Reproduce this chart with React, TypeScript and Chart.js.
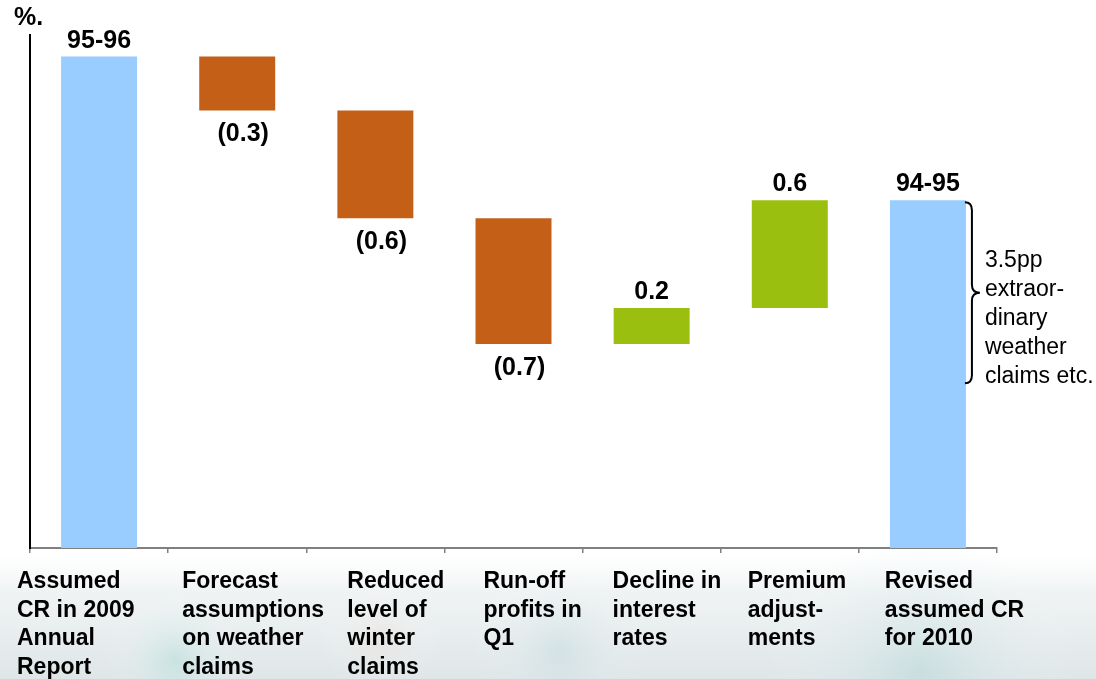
import React, { useEffect, useRef } from "react";
import { Chart, registerables } from "chart.js";

Chart.register(...registerables);

const categories: string[][] = [
  ["Assumed", "CR in 2009", "Annual", "Report"],
  ["Forecast", "assumptions", "on weather", "claims"],
  ["Reduced", "level of", "winter", "claims"],
  ["Run-off", "profits in", "Q1"],
  ["Decline in", "interest", "rates"],
  ["Premium", "adjust-", "ments"],
  ["Revised", "assumed CR", "for 2010"],
];
const startValue = 95.5;
const changes: number[] = [-0.3, -0.6, -0.7, 0.2, 0.6];
const endValue = 94.7;
const valueLabels: string[] = ["95-96", "(0.3)", "(0.6)", "(0.7)", "0.2", "0.6", "94-95"];
const noteLines: string[] = ["3.5pp", "extraor-", "dinary", "weather", "claims etc."];
const unitLabel = "%.";
const axisMin = 92.765;
const axisMax = 95.62;

const BLUE = "#99CCFF";
const ORANGE = "#C45F17";
const GREEN = "#9BBF0E";

export default function App() {
  const ref = useRef<HTMLCanvasElement>(null);
  useEffect(() => {
    document.body.style.margin = "0";
    const ranges: [number, number][] = [];
    const colors: string[] = [];
    ranges.push([axisMin, startValue]);
    colors.push(BLUE);
    let level = startValue;
    for (const c of changes) {
      const next = level + c;
      ranges.push([Math.min(level, next), Math.max(level, next)]);
      colors.push(c < 0 ? ORANGE : GREEN);
      level = next;
    }
    ranges.push([axisMin, endValue]);
    colors.push(BLUE);
    const signs = [1, ...changes.map((c) => (c < 0 ? -1 : 1)), 1];

    const labelOffsets = [-13, 14, 41, 39, 30, 27, 26];

    const bgPlugin = {
      id: "bg",
      beforeDraw(chart: any) {
        const ctx = chart.ctx;
        ctx.save();
        ctx.fillStyle = "#ffffff";
        ctx.fillRect(0, 0, chart.width, chart.height);
        const g = ctx.createLinearGradient(0, 555, 0, 679);
        g.addColorStop(0, "rgba(240,243,244,0)");
        g.addColorStop(0.3, "rgba(236,240,241,0.8)");
        g.addColorStop(1, "rgba(222,230,232,1)");
        ctx.fillStyle = g;
        ctx.fillRect(0, 555, chart.width, 124);
        const blobs = [
          [175, 660, 70, "rgba(150,215,205,0.35)"],
          [560, 650, 90, "rgba(170,205,210,0.3)"],
          [920, 670, 160, "rgba(160,205,205,0.35)"],
          [380, 640, 60, "rgba(235,215,205,0.35)"],
        ];
        for (const [x, y, r, c] of blobs as any) {
          const rg = ctx.createRadialGradient(x, y, 0, x, y, r);
          rg.addColorStop(0, c);
          rg.addColorStop(1, "rgba(255,255,255,0)");
          ctx.fillStyle = rg;
          ctx.fillRect(x - r, y - r, r * 2, r * 2);
        }
        ctx.restore();
      },
    };

    const textPlugin = {
      id: "texts",
      afterDraw(chart: any) {
        const ctx = chart.ctx;
        const xs = chart.scales.x;
        const ys = chart.scales.y;
        const meta = chart.getDatasetMeta(0);
        ctx.save();
        ctx.fillStyle = "#000";
        // unit
        ctx.font = "bold 25px 'Liberation Sans', Arial, sans-serif";
        ctx.textAlign = "left";
        ctx.textBaseline = "alphabetic";
        ctx.fillText(unitLabel, 14, 25);
        // value labels
        ctx.textAlign = "center";
        meta.data.forEach((bar: any, i: number) => {
          const props = bar.getProps(["x", "y", "base"], true);
          const top = Math.min(props.y, props.base);
          const bottom = Math.max(props.y, props.base);
          if (signs[i] < 0) {
            ctx.fillText(valueLabels[i], props.x + 6, bottom + 31);
          } else {
            ctx.fillText(valueLabels[i], props.x, top - 9);
          }
        });
        // category labels
        ctx.font = "bold 23px 'Liberation Sans', Arial, sans-serif";
        ctx.textAlign = "left";
        const band = xs.width / categories.length;
        categories.forEach((lines, i) => {
          const x0 = xs.getPixelForValue(i) - band / 2 + labelOffsets[i];
          lines.forEach((ln, k) => {
            ctx.fillText(ln, x0, 588 + k * 28.5);
          });
        });
        // brace next to the last bar
        const last = meta.data[meta.data.length - 1].getProps(["x", "y", "width"], true);
        const bx = last.x + last.width / 2 - 1;
        const top = ys.getPixelForValue(endValue) + 2;
        const bot = top + 181;
        const mid = (top + bot) / 2;
        ctx.strokeStyle = "#000";
        ctx.lineWidth = 2;
        ctx.beginPath();
        ctx.moveTo(bx, top);
        ctx.quadraticCurveTo(bx + 7, top, bx + 7, top + 8);
        ctx.lineTo(bx + 7, mid - 8);
        ctx.quadraticCurveTo(bx + 7, mid, bx + 15, mid);
        ctx.quadraticCurveTo(bx + 7, mid, bx + 7, mid + 8);
        ctx.lineTo(bx + 7, bot - 8);
        ctx.quadraticCurveTo(bx + 7, bot, bx, bot);
        ctx.stroke();
        ctx.font = "23px 'Liberation Sans', Arial, sans-serif";
        noteLines.forEach((ln, k) => {
          ctx.fillText(ln, bx + 20, top + 65 + k * 29);
        });
        ctx.restore();
      },
    };

    const chart = new Chart(ref.current!, {
      type: "bar",
      data: {
        labels: categories.map((c) => c.join(" ")),
        datasets: [
          {
            data: ranges as any,
            backgroundColor: colors,
            borderWidth: 0,
            barPercentage: 0.55,
            categoryPercentage: 1,
            borderSkipped: false,
          },
        ],
      },
      options: {
        responsive: false,
        animation: false,
        layout: { padding: { top: 35, right: 99, left: 0, bottom: 0 } },
        plugins: { legend: { display: false }, tooltip: { enabled: false } },
        scales: {
          x: {
            offset: true,
            grid: {
              offset: true,
              drawOnChartArea: false,
              drawTicks: true,
              tickLength: 5,
              color: "#808080",
              lineWidth: 1.5,
            },
            border: { display: true, color: "#808080", width: 2 },
            ticks: { display: false },
            afterFit: (s: any) => {
              s.height = 131;
            },
          },
          y: {
            min: axisMin,
            max: axisMax,
            grid: { display: false, drawTicks: false },
            border: { display: true, color: "#000", width: 2 },
            ticks: { display: false },
            afterFit: (s: any) => {
              s.width = 30;
            },
          },
        },
      },
      plugins: [bgPlugin, textPlugin],
    });
    return () => chart.destroy();
  }, []);
  return (
    <div style={{ width: 1096, height: 679 }}>
      <canvas ref={ref} width={1096} height={679} style={{ display: "block" }} />
    </div>
  );
}
